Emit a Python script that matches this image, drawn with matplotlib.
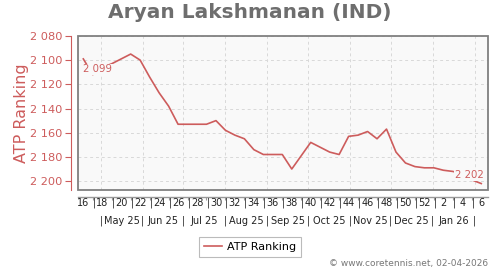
import numpy as np
import matplotlib
matplotlib.use('Agg')
import matplotlib.pyplot as plt

# ATP ranking, weekly (ISO weeks 16/2025 .. 6/2026)
weeks = list(range(16, 53)) + list(range(1, 7))
ranking = [2099, 2112, 2106, 2103, 2099, 2095, 2100, 2114, 2127, 2138,
           2153, 2153, 2153, 2153, 2150, 2158, 2162, 2165, 2174, 2178,
           2178, 2178, 2190, 2179, 2168, 2172, 2176, 2178, 2163, 2162,
           2159, 2165, 2157, 2176, 2185, 2188, 2189, 2189, 2191, 2192,
           2194, 2199, 2202]
months = ['May 25', 'Jun 25', 'Jul 25', 'Aug 25', 'Sep 25', 'Oct 25',
          'Nov 25', 'Dec 25', 'Jan 26']
yticks = [2080, 2100, 2120, 2140, 2160, 2180, 2200]

first_day = np.datetime64('2025-04-18')
month_starts = np.arange('2025-05', '2026-03', dtype='datetime64[M]').astype('datetime64[D]')
month_pos = (month_starts - first_day).astype(int) / 7.0

red = '#cd5c5c'
grey = '#808080'
x = np.arange(len(weeks))


def fmt(v):
    return f'{v:,}'.replace(',', ' ')


fig = plt.figure(figsize=(5, 2.7), dpi=100)
ax = fig.add_axes([0.156, 0.296, 0.82, 0.571])
ax.set_facecolor('#f9f9f9')

ax.plot(x, ranking, color=red, lw=1.2, zorder=3)
ax.set_xlim(-0.56, 42.71)
ax.set_ylim(2207.4, 2080)

# grid
for yv in yticks:
    ax.axhline(yv, color='#d9d9d9', lw=0.7, ls=(0, (3, 3)), zorder=1)
for mp in month_pos:
    ax.axvline(mp, color='#d9d9d9', lw=0.7, ls=(0, (3, 3)), zorder=1)

# frame
for s in ['top', 'right']:
    ax.spines[s].set_visible(False)
ax.add_patch(plt.Rectangle((0, 0), 1, 1, transform=ax.transAxes, fill=False,
                           edgecolor=grey, lw=1.3, zorder=4, clip_on=False))
ax.spines['left'].set_position(('outward', 5))
ax.spines['left'].set_color(red)
ax.spines['left'].set_linewidth(0.8)
ax.spines['bottom'].set_position(('outward', 5))
ax.spines['bottom'].set_color('#999999')
ax.spines['bottom'].set_linewidth(1.0)

ax.set_yticks(yticks)
ax.set_yticklabels([fmt(v) for v in yticks])
ax.tick_params(axis='y', colors=red, labelsize=8.2, length=4, width=0.8, pad=2)
ax.set_ylabel('ATP Ranking', color=red, fontsize=11.5, labelpad=1)

ax.set_xticks(x[1::2])
ax.set_xticklabels([])
ax.tick_params(axis='x', colors='#999999', length=2, width=0.8)

# week labels
tr = ax.get_xaxis_transform()
for i, w in enumerate(weeks):
    if i % 2 == 0:
        ax.text(i, -0.085, str(w), transform=tr, ha='center', va='center',
                fontsize=7, color='#222222')
    else:
        ax.text(i + 0.15, -0.085, '|', transform=tr, ha='center', va='center',
                fontsize=7, color='#222222')

# month labels
for mp in month_pos:
    ax.text(mp, -0.199, '|', transform=tr, ha='center', va='center',
            fontsize=7, color='#222222')
for i, m in enumerate(months):
    ax.text((month_pos[i] + month_pos[i + 1]) / 2, -0.199, m, transform=tr,
            ha='center', va='center', fontsize=7, color='#222222')

# value labels at first / last point
bg = dict(facecolor='#f9f9f9', edgecolor='none', pad=0.6)
ax.annotate(fmt(ranking[0]), (x[0], ranking[0]),
            xytext=(0, -7.5), textcoords='offset points', ha='left', va='center',
            fontsize=7.3, color=red, bbox=bg, zorder=5)
ax.annotate(fmt(ranking[-1]), (x[-1], ranking[-1]),
            xytext=(1.5, 6), textcoords='offset points', ha='right', va='center',
            fontsize=7.3, color=red, bbox=bg, zorder=5)

fig.text(0.5, 0.952, 'Aryan Lakshmanan (IND)', ha='center', va='center',
         fontsize=14.5, fontweight='bold', color='#6e6e6e')

leg = ax.legend(['ATP Ranking'], loc='center', bbox_to_anchor=(0.5, 0.085),
                bbox_transform=fig.transFigure, fontsize=8, frameon=True,
                fancybox=False, handlelength=1.6, borderpad=0.45, handletextpad=0.5)
leg.get_frame().set_edgecolor('#aaaaaa')
leg.get_frame().set_linewidth(0.8)

fig.text(0.976, 0.025, '\u00a9 www.coretennis.net, 02-04-2026', ha='right',
         va='center', fontsize=6.5, color='#777777')

fig.savefig('out.png', dpi=100)
